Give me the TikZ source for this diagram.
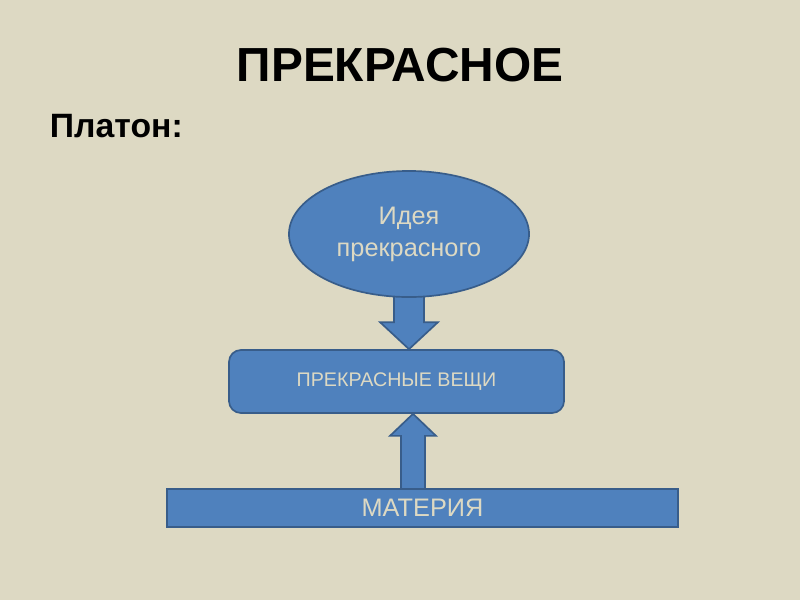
\documentclass[tikz,border=0pt]{standalone}
\usepackage{fontspec}
\setmainfont{Liberation Sans}
\usepackage{xcolor}
\usepackage{tikz}
\usetikzlibrary{shapes,calc,positioning,backgrounds}

\definecolor{slidebg}{HTML}{DDD9C3}
\definecolor{boxfill}{HTML}{4F81BD}
\definecolor{boxline}{HTML}{385D8A}

\begin{document}
\begin{tikzpicture}[
  x=0.025cm, y=-0.025cm,
  bluebox/.style={draw=boxline, fill=boxfill, line width=1.2pt, text=slidebg, align=center, inner sep=0pt},
  blockarrow/.style={draw=boxline, fill=boxfill, line width=1.2pt, line join=miter},
  heading/.style={font=\fontsize{34}{40}\selectfont\bfseries},
  subheading/.style={font=\fontsize{24}{29}\selectfont\bfseries}
]
  \begin{scope}[on background layer]
    \fill[slidebg] (0,0) rectangle (800,600);
  \end{scope}

  \node[heading] (title) at (400,65) {ПРЕКРАСНОЕ};
  \node[subheading, anchor=west] (plato) at (45,126) {Платон:};

  \node[bluebox, ellipse, minimum width=6cm, minimum height=3.15cm,
        font=\fontsize{18}{22.7}\selectfont] (idea) at (409,234) {Идея\\прекрасного};
  \node[bluebox, rectangle, rounded corners=0.3cm, minimum width=8.375cm, minimum height=1.575cm,
        font=\fontsize{14}{17}\selectfont] (things) at (396.5,381.5) {ПРЕКРАСНЫЕ ВЕЩИ};
  \node[bluebox, rectangle, minimum width=12.775cm, minimum height=0.95cm,
        font=\fontsize{18}{22}\selectfont] (matter) at (422.5,508) {МАТЕРИЯ};

  % block arrows between the shapes
  \coordinate (dtip) at (idea.south |- things.north);
  \coordinate (utip) at ($(things.south)+(16.5,0)$);
  \coordinate (ubase) at (utip |- matter.north);
  \begin{scope}[on background layer]
    \draw[blockarrow] ($(idea.south)+(-15,-4)$) -- ($(dtip)+(-15,-27)$) -- ($(dtip)+(-29,-27)$)
      -- (dtip) -- ($(dtip)+(29,-27)$) -- ($(dtip)+(15,-27)$) -- ($(idea.south)+(15,-4)$) -- cycle;
    \draw[blockarrow] ($(ubase)+(-12,3)$) -- ($(utip)+(-12,22)$) -- ($(utip)+(-23,22)$)
      -- (utip) -- ($(utip)+(23,22)$) -- ($(utip)+(12,22)$) -- ($(ubase)+(12,3)$) -- cycle;
  \end{scope}
\end{tikzpicture}
\end{document}
